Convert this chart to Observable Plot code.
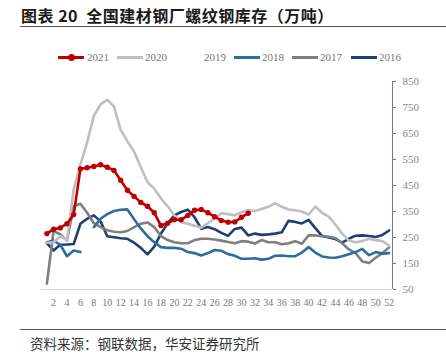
<!DOCTYPE html>
<html><head><meta charset="utf-8">
<script src="https://cdn.jsdelivr.net/npm/d3@7"></script>
<script src="https://cdn.jsdelivr.net/npm/@observablehq/plot@0.6"></script>
<style>
body{margin:0;width:446px;height:357px;position:relative;background:#fff;overflow:hidden}
#title{position:absolute;left:21px;top:7px;font-family:"Noto Sans CJK SC";font-weight:700;font-size:16px;line-height:17px;letter-spacing:0.5px;color:#1a1a1a;white-space:nowrap}
.rule{position:absolute;left:20px;width:426px;height:1px;background:#555}
#legend{position:absolute;left:0;top:50px;width:446px;height:14px;font-family:"Liberation Serif";font-size:11px;color:#777}
.sw{position:absolute;top:6px;height:3px;width:26px}
.lt{position:absolute;top:0;line-height:14px}
.dotm{position:absolute;top:4px;width:7px;height:7px;border-radius:50%;background:#C00000}
#chart{position:absolute;left:0;top:70px}
#source{position:absolute;left:30px;top:335px;font-family:"Noto Sans CJK SC";font-size:13.5px;line-height:16px;color:#333;white-space:nowrap}
</style></head><body>
<div id="title">图表 20&nbsp; 全国建材钢厂螺纹钢库存（万吨）</div>
<div class="rule" style="top:26px"></div>
<div id="legend"></div>
<div id="chart"></div>
<div class="rule" style="top:329px"></div>
<div id="source">资料来源：钢联数据，华安证券研究所</div>
<script>
const years = ["2021","2020","2019","2018","2017","2016"];
const colors = ["#C00000","#BFBFBF","#FFFFFF","#2E6DA4","#7F7F7F","#1F3F77"];
const xTicks = d3.range(2, 53, 2);
const yTicks = [50,150,250,350,450,550,650,750,850];

const s2021 = [265,282,287,303,338,514,518,523,530,520,508,470,432,408,385,370,345,296,305,318,318,335,355,358,345,330,315,309,310,328,343];
const s2020 = [230,232,255,240,435,530,615,718,762,780,753,664,620,580,520,463,438,400,370,335,309,303,295,288,305,325,343,340,335,347,355,352,360,368,382,368,358,355,350,338,369,345,330,300,265,238,232,236,245,240,236,219];
const s2018 = [232,238,222,178,200,194,null,290,322,340,352,357,358,320,285,255,232,213,210,210,207,194,190,181,190,202,199,186,180,168,168,170,165,168,180,181,178,178,192,213,192,177,173,172,178,186,194,206,182,194,188,190];
const s2017 = [72,275,262,238,370,380,345,305,290,278,272,270,275,290,303,308,290,255,240,232,228,228,240,245,245,242,238,233,228,236,234,227,240,232,232,224,228,236,226,258,258,255,253,248,228,204,190,158,152,172,190,212];
const s2016 = [228,200,222,223,225,303,322,335,312,255,251,247,245,230,210,185,215,265,305,335,348,357,328,284,290,282,268,256,283,288,258,265,260,262,265,270,314,310,304,318,286,256,250,244,230,245,257,258,256,252,260,277];

const rows = (vals, year) => vals.map((v, i) => ({week: i + 1, value: v == null ? NaN : v, year}));

// legend
const legendPos = [[58,87],[117,145],[178,204],[234,262],[292,320],[351,379]];
const lg = document.getElementById("legend");
years.forEach((y, i) => {
  const [lx, tx] = legendPos[i];
  const sw = document.createElement("div");
  sw.className = "sw"; sw.style.left = lx + "px"; sw.style.background = colors[i];
  lg.appendChild(sw);
  if (y === "2021") {
    const d = document.createElement("div");
    d.className = "dotm"; d.style.left = (lx + 10) + "px";
    lg.appendChild(d);
  }
  const t = document.createElement("div");
  t.className = "lt"; t.style.left = tx + "px"; t.textContent = y;
  lg.appendChild(t);
});

const lw = 2.6;
const chart = Plot.plot({
  width: 446,
  height: 240,
  marginTop: 11,
  marginBottom: 21,
  marginLeft: 43,
  marginRight: 54,
  x: {domain: [0.5, 52.5]},
  y: {domain: [50, 850]},
  marks: [
    Plot.ruleY([50], {x1: 0.1, x2: 52.5, stroke: "#d9d9d9", strokeWidth: 1}),
    Plot.line(rows(s2016, "2016"), {x: "week", y: "value", stroke: colors[5], strokeWidth: lw}),
    Plot.line(rows(s2017, "2017"), {x: "week", y: "value", stroke: colors[4], strokeWidth: lw}),
    Plot.line(rows(s2018, "2018"), {x: "week", y: "value", stroke: colors[3], strokeWidth: lw}),
    Plot.line(rows(s2020, "2020"), {x: "week", y: "value", stroke: colors[1], strokeWidth: lw}),
    Plot.line(rows(s2021, "2021"), {x: "week", y: "value", stroke: colors[0], strokeWidth: lw}),
    Plot.dot(rows(s2021, "2021"), {x: "week", y: "value", r: 2.7, fill: colors[0]}),
    Plot.ruleX([52.5], {y1: 50, y2: 850, stroke: "#6d7b8f", strokeWidth: 1}),
    Plot.axisY({anchor: "right", ticks: yTicks, tickSize: 3, tickPadding: 7, stroke: "#6d7b8f", fill: "#888", fontFamily: "Liberation Serif", fontSize: 11, label: null}),
    Plot.axisX({ticks: xTicks, tickSize: 0, tickPadding: 9, fill: "#777", fontFamily: "Liberation Serif", fontSize: 10, label: null})
  ]
});
document.getElementById("chart").appendChild(chart);
</script>
</body></html>
